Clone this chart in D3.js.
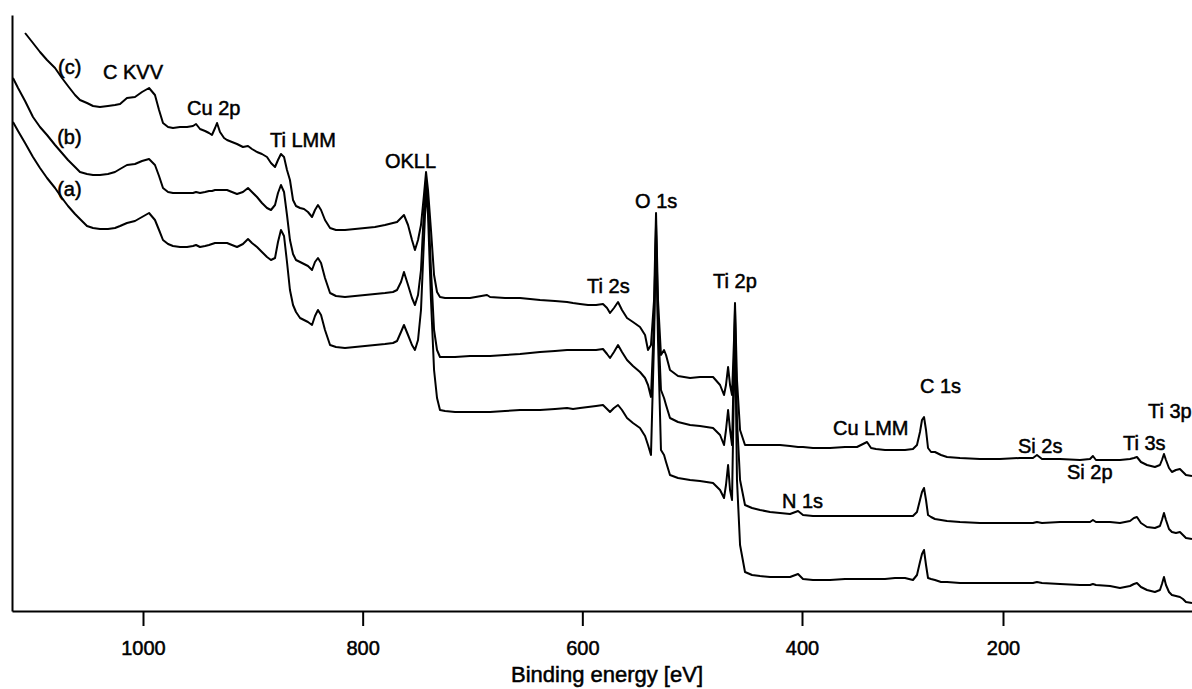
<!DOCTYPE html>
<html>
<head>
<meta charset="utf-8">
<script src="https://cdn.jsdelivr.net/npm/d3@7"></script>
<style>
  body { margin: 0; background: #fff; }
  svg { display: block; }
  .lbl { font-family: "Liberation Sans", Arial, sans-serif; font-size: 20px; fill: #000; stroke: #000; stroke-width: 0.5px; }
  .axis text { font-family: "Liberation Sans", Arial, sans-serif; font-size: 20px; fill: #000; stroke: #000; stroke-width: 0.5px; }
  .axis path, .axis line { stroke: #000; stroke-width: 2px; }
</style>
</head>
<body>
<div id="chartDiv"></div>
<script>
// binding energy grid (eV), shared by the three spectra
var energy = [
  1118.4,1113.8,1107.4,1100.2,1093.8,1087.4,1080.1,1073.8,1068.3,1061.9,
  1057.4,1051.0,1045.5,1039.2,1031.9,1025.5,1020.9,1014.6,1007.3,1000.9,
  994.5,989.1,985.4,981.8,977.2,972.7,966.3,959.9,954.5,951.7,
  948.1,943.5,939.9,937.2,934.4,932.6,929.9,926.2,923.5,919.0,
  914.4,909.0,904.4,900.8,896.2,891.7,887.1,883.5,879.8,877.1,
  874.4,871.6,868.9,866.2,863.4,860.7,857.0,853.4,849.8,846.1,
  843.4,840.7,837.9,834.3,829.7,824.3,816.1,807.0,797.9,788.8,
  779.7,772.4,768.7,765.1,762.4,758.7,755.1,752.4,749.6,746.9,
  744.2,742.3,740.5,737.8,735.0,732.3,729.6,725.0,715.9,702.3,
  686.8,684.0,670.4,656.7,638.5,624.9,613.9,608.5,602.1,594.8,
  587.5,581.2,577.5,574.8,571.2,567.5,563.9,559.3,553.9,547.5,
  542.9,540.2,537.5,534.7,532.9,531.1,528.4,525.6,523.8,520.2,
  512.9,501.9,492.9,481.0,474.6,471.0,469.2,467.3,465.5,463.7,
  461.9,461.0,459.2,456.4,451.9,445.5,438.2,429.1,420.0,410.9,
  403.6,399.0,389.1,372.1,357.2,345.3,339.3,335.3,331.3,326.4,
  317.4,307.5,297.5,289.6,285.6,282.6,280.6,278.6,276.6,274.6,
  271.6,267.7,261.7,255.7,242.8,222.9,203.0,183.1,170.2,166.2,
  161.2,143.3,123.4,113.4,110.5,107.5,93.5,83.6,73.6,69.7,
  66.7,62.7,56.7,48.8,43.8,41.8,39.8,37.8,34.8,31.9,
  27.9,23.9,20.9,17.9,11.9
];

// intensities (a.u., offset stacked)
var specC = [
  null,null,578,568,559,551,543,533,525,516,
  511,508,505,504,505,506,507,513,514,519,
  523,516,501,488,484,483,484,484,485,487,
  482,480,478,476,483,488,479,473,471,469,
  467,464,465,462,459,457,454,448,444,451,
  457,454,441,431,411,405,403,402,399,394,
  401,406,401,391,383,381,381,382,383,384,
  386,388,389,393,396,386,371,361,371,386,
  416,439,421,381,336,319,314,313,313,313,
  316,314,313,313,311,310,309,308,307,306,
  306,307,303,298,303,309,301,293,289,284,
  276,261,266,311,398,311,256,261,256,241,
  235,233,234,234,226,216,226,244,226,216,
  271,308,231,181,166,166,166,166,166,165,
  164,164,163,163,164,164,167,169,163,162,
  161,161,161,162,166,179,191,194,181,163,
  159,159,156,154,153,152,152,153,153,156,
  152,152,151,152,155,151,151,151,152,153,
  154,149,146,144,146,151,157,151,143,139,
  141,142,139,136,135
];
var specB = [
  533,523,510,494,484,476,466,458,451,444,
  439,437,436,436,437,439,442,446,447,450,
  452,446,435,423,419,418,418,418,418,419,
  418,419,420,420,421,421,421,421,421,419,
  417,419,423,419,414,408,403,401,406,418,
  426,419,396,371,357,351,349,347,345,341,
  349,353,348,333,318,315,314,315,316,317,
  318,319,321,329,339,326,313,306,316,341,
  401,431,411,341,281,261,254,254,254,255,
  255,255,256,257,259,260,261,261,261,261,
  261,262,257,253,259,266,259,251,245,239,
  233,226,214,291,386,291,221,213,206,193,
  189,186,185,183,176,166,181,201,181,166,
  251,301,191,131,106,103,101,99,98,97,
  100,96,95,95,95,95,95,95,95,95,
  95,95,95,95,99,111,119,123,111,96,
  94,92,91,90,89,88,88,88,88,89,
  88,89,89,89,91,89,89,88,90,93,
  94,88,84,83,85,91,98,91,82,79,
  78,79,76,73,72
];
var specA = [
  489,480,468,454,443,433,423,413,405,397,
  392,385,383,382,382,383,385,388,390,394,
  398,391,381,371,367,365,364,364,365,366,
  364,365,366,367,368,368,368,368,368,366,
  364,367,372,368,364,359,354,351,353,369,
  381,375,349,321,306,299,293,291,289,286,
  295,301,296,281,266,264,263,264,265,266,
  267,268,270,279,286,276,266,261,271,301,
  371,421,396,311,241,213,201,200,199,199,
  199,199,200,201,201,202,203,202,203,204,
  205,206,202,199,203,206,201,193,188,183,
  175,166,156,271,376,271,161,156,149,136,
  133,131,130,128,121,113,126,146,121,111,
  231,291,131,66,39,36,35,34,34,34,
  37,32,31,31,32,32,32,32,32,32,
  32,33,33,31,36,49,57,61,46,33,
  32,31,29,29,28,28,28,28,28,29,
  28,27,26,26,27,26,25,23,25,27,
  28,24,21,19,21,27,34,26,19,16,
  15,14,12,9,8
];

var xTicks = [1000, 800, 600, 400, 200];

// peak / curve labels
var peakNames = ["(c)", "(b)", "(a)", "C KVV", "Cu 2p", "Ti LMM", "OKLL", "O 1s", "Ti 2s",
                 "Ti 2p", "Cu LMM", "C 1s", "N 1s", "Si 2s", "Si 2p", "Ti 3s", "Ti 3p"];
var peakEnergy = [1077.3, 1078.2, 1078.2, 1036.4, 959.9, 884.4, 779.7, 552.0, 595.7,
                  481.0, 369.2, 282.6, 418.2, 185.1, 136.3, 80.6, 55.7];
var peakLevel  = [537, 467, 415, 532, 496, 464, 443, 403, 318,
                  323, 176, 218, 103, 158, 132, 161, 193];

var svg = d3.select("#chartDiv").append("svg")
    .attr("width", 1192)
    .attr("height", 689);

// the printed energy axis is not quite uniform, so a polylinear scale
var x_scale = d3.scaleLinear()
    .domain([1119.3, 1000, 400, 200, 11.9])
    .range([12, 143, 802, 1003, 1192]);

var y_scale = d3.scaleLinear()
    .domain([0, 596])
    .range([611, 15]);

var xAxis = d3.axisBottom(x_scale)
    .tickValues(xTicks)
    .tickFormat(d3.format("d"))
    .tickSize(15)
    .tickSizeOuter(0)
    .tickPadding(15);

svg.append("g").attr("class", "axis")
    .attr("transform", "translate(0," + y_scale(0) + ")")
    .call(xAxis);

svg.append("g").attr("class", "axis")
    .attr("transform", "translate(" + x_scale(1119.3) + ",0)")
    .call(d3.axisLeft(y_scale).tickValues([]).tickSizeOuter(0));

svg.append("text").attr("class", "lbl")
    .attr("x", 607).attr("y", 682)
    .attr("text-anchor", "middle")
    .style("font-size", "22px")
    .text("Binding energy [eV]");

var line = d3.line()
    .defined(function(d) { return d[1] != null; })
    .x(function(d) { return x_scale(d[0]); })
    .y(function(d) { return y_scale(d[1]); });

[specA, specB, specC].forEach(function(spec) {
  var pts = energy.map(function(e, i) { return [e, spec[i]]; });
  svg.append("path")
      .datum(pts)
      .attr("d", line)
      .attr("fill", "none")
      .attr("stroke", "#000")
      .attr("stroke-width", 2)
      .attr("stroke-linejoin", "round");
});

svg.selectAll(".peak").data(peakNames).enter()
  .append("text").attr("class", "lbl peak")
    .attr("x", function(d, i) { return x_scale(peakEnergy[i]); })
    .attr("y", function(d, i) { return y_scale(peakLevel[i]); })
    .text(function(d) { return d; });
</script>
</body>
</html>
